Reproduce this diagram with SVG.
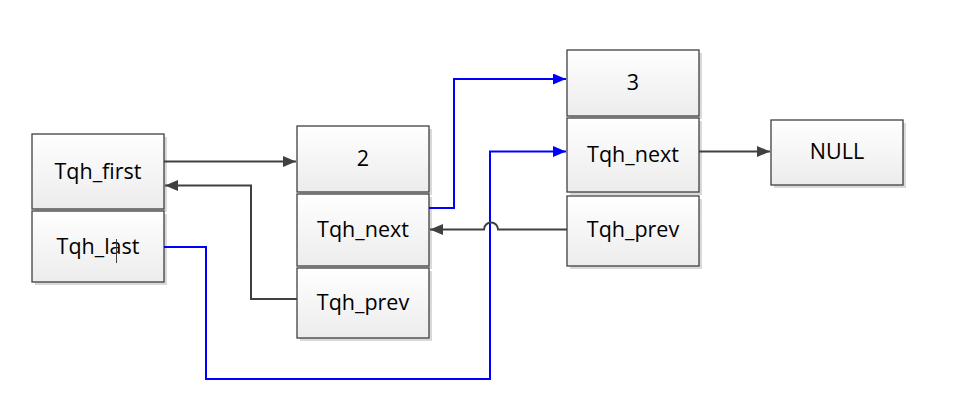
<svg xmlns="http://www.w3.org/2000/svg" width="980" height="416" viewBox="0 0 980 416">
<defs>
<linearGradient id="g" x1="0" y1="0" x2="0" y2="1">
<stop offset="0" stop-color="#ffffff"/>
<stop offset="1" stop-color="#ececec"/>
</linearGradient>
<marker id="ag" markerWidth="13" markerHeight="11" refX="13" refY="5.5" orient="auto" markerUnits="userSpaceOnUse">
<path d="M0,0 L13,5.5 L0,11 Z" fill="#404040"/>
</marker>
<marker id="ab" markerWidth="13" markerHeight="11" refX="13" refY="5.5" orient="auto" markerUnits="userSpaceOnUse">
<path d="M0,0 L13,5.5 L0,11 Z" fill="#0000ff"/>
</marker>
</defs>
<style>
.sh{fill:#d9d9d9}
.bx{fill:url(#g);stroke:#404040;stroke-width:1.3}
.t{font-family:"Open Sans","Liberation Sans",sans-serif;font-size:21.5px;fill:#000;text-anchor:middle}
.cg{fill:none;stroke:#404040;stroke-width:2}
.cb{fill:none;stroke:#0000ff;stroke-width:2}
</style>
<rect width="980" height="416" fill="#fff"/>
<g id="head_first">
<rect class="sh" x="35" y="137" width="132" height="75"/>
<rect class="bx" x="32" y="134" width="132" height="75"/>
<text class="t" x="98" y="179">Tqh_first</text>
</g>
<g id="head_last">
<rect class="sh" x="35" y="214" width="132" height="71"/>
<rect class="bx" x="32" y="211" width="132" height="71"/>
<text class="t" x="98" y="254">Tqh_last</text>
<line x1="116.5" y1="239" x2="116.5" y2="263" stroke="#404040" stroke-width="1"/>
</g>
<g id="node2_val">
<rect class="sh" x="300" y="129" width="132" height="66"/>
<rect class="bx" x="297" y="126" width="132" height="66"/>
<text class="t" x="363" y="166">2</text>
</g>
<g id="node2_next">
<rect class="sh" x="300" y="197" width="132" height="72"/>
<rect class="bx" x="297" y="194" width="132" height="72"/>
<text class="t" x="363" y="237">Tqh_next</text>
</g>
<g id="node2_prev">
<rect class="sh" x="300" y="271" width="132" height="70"/>
<rect class="bx" x="297" y="268" width="132" height="70"/>
<text class="t" x="363" y="310">Tqh_prev</text>
</g>
<g id="node3_val">
<rect class="sh" x="570" y="53" width="132" height="66"/>
<rect class="bx" x="567" y="50" width="132" height="66"/>
<text class="t" x="633" y="90">3</text>
</g>
<g id="node3_next">
<rect class="sh" x="570" y="121" width="132" height="74"/>
<rect class="bx" x="567" y="118" width="132" height="74"/>
<text class="t" x="633" y="162">Tqh_next</text>
</g>
<g id="node3_prev">
<rect class="sh" x="570" y="199" width="132" height="70"/>
<rect class="bx" x="567" y="196" width="132" height="70"/>
<text class="t" x="633" y="237">Tqh_prev</text>
</g>
<g id="null">
<rect class="sh" x="774" y="123" width="132" height="65"/>
<rect class="bx" x="771" y="120" width="132" height="65"/>
<text class="t" x="837" y="159">NULL</text>
</g>
<g id="connectors">
<path class="cg" d="M164,161.5 H296" marker-end="url(#ag)"/>
<path class="cg" d="M297,299 H251 V185.5 H165" marker-end="url(#ag)"/>
<path class="cb" d="M429,208 H454 V79 H566" marker-end="url(#ab)"/>
<path class="cb" d="M164,247 H206 V379 H490 V151.5 H566" marker-end="url(#ab)"/>
<path class="cg" d="M567,229.5 H498 A7,7 0 0 0 484,229.5 H430" marker-end="url(#ag)"/>
<path class="cg" d="M699,151.5 H770" marker-end="url(#ag)"/>
</g>
</svg>
